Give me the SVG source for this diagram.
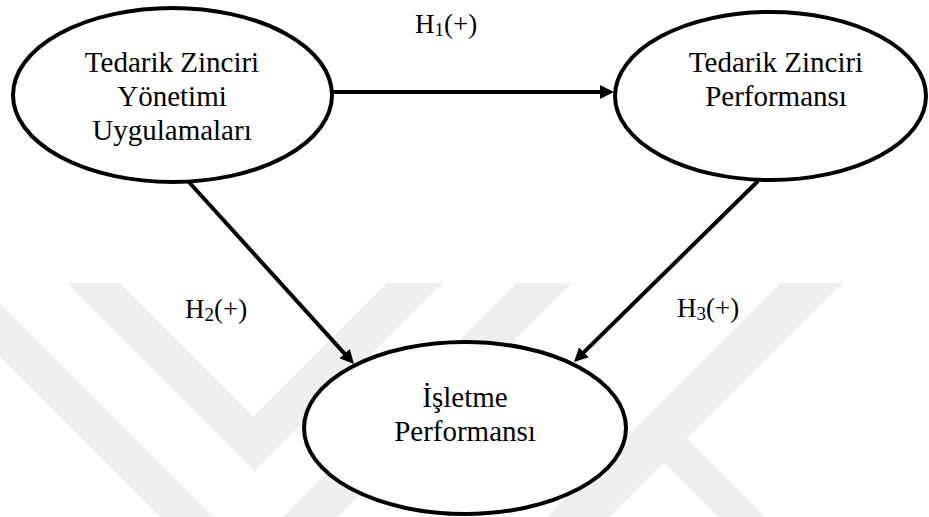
<svg xmlns="http://www.w3.org/2000/svg" width="929" height="517" viewBox="0 0 929 517">
  <defs>
    <style>
      .wm { fill: #efefef; stroke: none; }
      .node ellipse { fill: #ffffff; stroke: #000000; stroke-width: 4; }
      .node text { font-family: 'Liberation Serif', 'Times New Roman', serif; font-size: 29px; fill: #000000; text-anchor: middle; }
      .edge { fill: none; stroke: #000000; stroke-width: 4; marker-end: url(#arrow); }
      .lbl { font-family: 'Liberation Serif', 'Times New Roman', serif; font-size: 27px; fill: #000000; }
      .sub { font-size: 19px; }
    </style>
    <marker id="arrow" markerUnits="userSpaceOnUse" markerWidth="14" markerHeight="14" refX="6" refY="7" orient="auto">
      <path d="M0,0 L14,7 L0,14 Z" fill="#000000"/>
    </marker>
  </defs>

  <rect x="0" y="0" width="929" height="517" fill="#ffffff"/>

  <!-- faint background mark -->
  <g id="backdrop">
    <polygon class="wm" points="67,283 120,283 253.5,416.5 387,283 443,283 255,471"/>
    <polygon class="wm" points="0,303 0,357 160,517 214,517"/>
    <polygon class="wm" points="517,283 572,283 338,517 283,517"/>
    <polygon class="wm" points="781,283 843,283 687,439 765,517 718,517 664,463 609,517 547,517"/>
  </g>

  <!-- nodes -->
  <g id="node-tzyu" class="node">
    <ellipse cx="172.5" cy="95" rx="159.5" ry="87"/>
    <text x="172" y="72">Tedarik Zinciri</text>
    <text x="172" y="106">Yönetimi</text>
    <text x="172" y="140">Uygulamaları</text>
  </g>
  <g id="node-tzp" class="node">
    <ellipse cx="770.5" cy="96" rx="155.5" ry="84"/>
    <text x="776" y="72">Tedarik Zinciri</text>
    <text x="776" y="106">Performansı</text>
  </g>
  <g id="node-ip" class="node">
    <ellipse cx="465" cy="428" rx="161" ry="86"/>
    <text x="465" y="407">İşletme</text>
    <text x="465" y="441">Performansı</text>
  </g>

  <!-- connectors -->
  <g id="connectors">
    <path class="edge" d="M333,92 L606,92"/>
    <path class="edge" d="M188,181 L348.6,358.1"/>
    <path class="edge" d="M758,181 L579.7,356.4"/>
  </g>

  <!-- hypothesis labels -->
  <g id="labels">
    <text class="lbl" x="415" y="33">H<tspan class="sub" dy="3">1</tspan><tspan dy="-3">(+)</tspan></text>
    <text class="lbl" x="185" y="318">H<tspan class="sub" dy="3">2</tspan><tspan dy="-3">(+)</tspan></text>
    <text class="lbl" x="677" y="317">H<tspan class="sub" dy="3">3</tspan><tspan dy="-3">(+)</tspan></text>
  </g>
</svg>
